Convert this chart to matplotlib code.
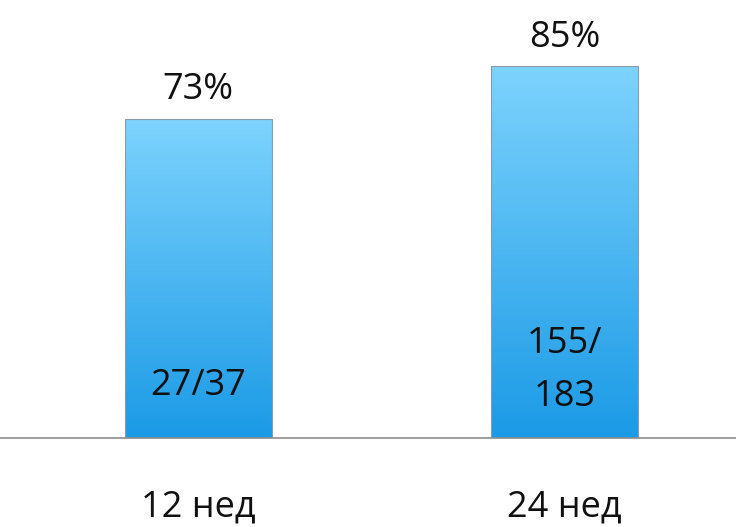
import numpy as np
import matplotlib
matplotlib.use("Agg")
import matplotlib.pyplot as plt
from matplotlib.colors import LinearSegmentedColormap

plt.rcParams['font.family'] = ['Open Sans', 'DejaVu Sans']

categories = ["12 нед", "24 нед"]
values = [73, 85]
top_labels = ["73%", "85%"]
inner_labels = ["27/37", "155/\n183"]

fig = plt.figure(figsize=(7.36, 5.27), dpi=100)
ax = fig.add_axes([0, 89/527, 1, 438/527])
ax.set_xlim(-0.542, 1.469)
ax.set_ylim(0, 100.2)
ax.axis('off')

cmap = LinearSegmentedColormap.from_list("g", ["#1b9ae6", "#7dd3fd"])
grad = np.linspace(0, 1, 256).reshape(-1, 1)
x = np.arange(len(categories))
w = 0.4016
bars = ax.bar(x, values, width=w, color='none', edgecolor='#8a9aa8', linewidth=0.8, zorder=3)
for b in bars:
    x0, y0 = b.get_x(), b.get_y()
    im = ax.imshow(grad, cmap=cmap, aspect='auto', origin='lower',
                   extent=[x0, x0 + b.get_width(), y0, y0 + b.get_height()], zorder=2)
    im.set_clip_path(b)

ax.axhline(0, color='#8c8c8c', linewidth=1.2, zorder=4, clip_on=False)

for xi, v, t in zip(x, values, top_labels):
    ax.text(xi, v + 6.6, t, ha='center', va='center', fontsize=26, color='#111111')

ax.text(x[0], 12.0, inner_labels[0], ha='center', va='center', fontsize=26, color='#111111', zorder=5)
ax.text(x[1], 15.4, inner_labels[1], ha='center', va='center', fontsize=26, color='#111111',
        linespacing=1.62, zorder=5)

for xi, c in zip(x, categories):
    ax.text(xi, -15.8, c, ha='center', va='center', fontsize=26, color='#111111', clip_on=False)

fig.savefig("out.png", dpi=100)
